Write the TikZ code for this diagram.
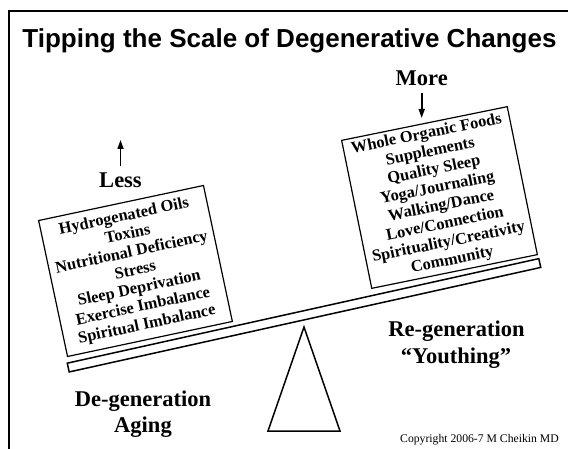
\documentclass[tikz,border=0pt]{standalone}
\usepackage{fontspec}
\setmainfont{Liberation Serif}
\newfontfamily\headfont{Liberation Sans}
\usetikzlibrary{arrows.meta}

\tikzset{
  listbox/.style={draw, line width=1.2pt, align=center, inner sep=0pt,
    font=\bfseries\fontsize{16.4}{18.4}\selectfont},
  bigword/.style={font=\bfseries\fontsize{22.5}{26}\selectfont, anchor=base},
  pointer/.style={-{Triangle[width=6pt,length=9pt]}, line width=1.6pt},
}

\begin{document}
\begin{tikzpicture}[x=1pt,y=-1pt]
    \useasboundingbox (0,0) rectangle (568,449);
    \draw[line width=2pt] (9,449) |- (568,11);

    \node[font=\headfont\bfseries\fontsize{26}{28}\selectfont, anchor=base] (title) at (289.5,48) {Tipping the Scale of Degenerative Changes};

    % the scale itself
    \node[draw, line width=1.5pt, rotate=12.5, minimum width=483pt, minimum height=9pt, inner sep=0pt] (beam) at (304,315.3) {};
    \draw[line width=1.5pt] (304,327) -- (340,431) -- (268,431) -- cycle;

    \node[listbox, rotate=12, minimum width=168.5pt, minimum height=139pt] (lesslist) at (135.5,271)
        {Hydrogenated Oils\\Toxins\\Nutritional Deficiency\\Stress\\Sleep Deprivation\\Exercise Imbalance\\Spiritual Imbalance};
    \node[listbox, rotate=11.5, minimum width=169pt, minimum height=151pt] (morelist) at (439.5,197.5)
        {Whole Organic Foods\\Supplements\\Quality Sleep\\Yoga/Journaling\\Walking/Dance\\Love/Connection\\Spirituality/Creativity\\Community};

    \node[bigword] (less) at (120.5,188) {Less};
    \node[bigword] (more) at (421.7,86) {More};
    \coordinate (lesstip) at (120.5,140);
    \coordinate (moretip) at (421.7,118);
    \draw[pointer, shorten <=4pt] (less.north) -- (lesstip);
    \draw[pointer, shorten <=3pt] (more.south) -- (moretip);

    \node[bigword] (degen) at (143,406.5) {De-generation};
    \node[bigword] (aging) at (143,432) {Aging};
    \node[bigword] (regen) at (456.5,337) {Re-generation};
    \node[bigword] (youth) at (456,363) {“Youthing”};

    \node[font=\fontsize{11.7}{14}\selectfont, anchor=base] (copyright) at (479.5,442) {Copyright 2006-7 M Cheikin MD};
\end{tikzpicture}
\end{document}
